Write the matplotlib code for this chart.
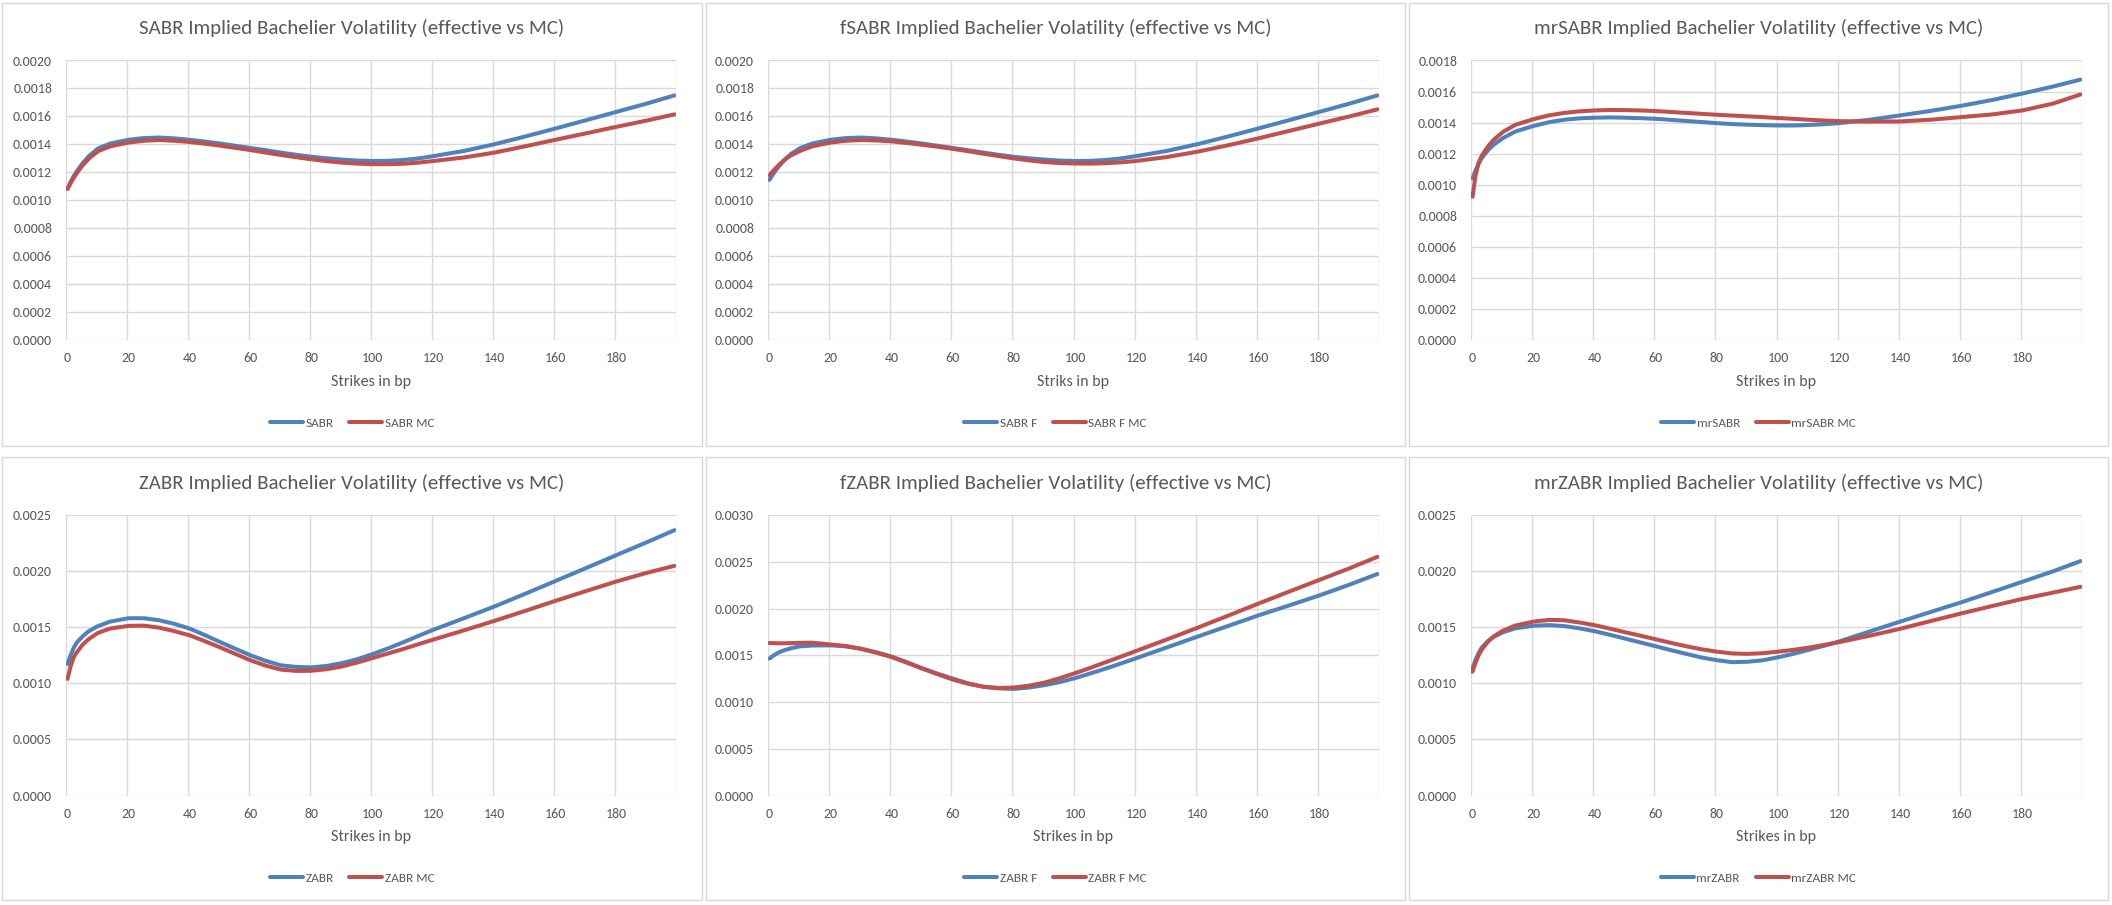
import matplotlib
matplotlib.use("Agg")
import matplotlib.pyplot as plt
from matplotlib import font_manager
from matplotlib.patches import Rectangle
from matplotlib.ticker import FormatStrFormatter
import numpy as np

# ---- data (strike in bp, implied Bachelier vol in units of 1e-3) ----
strikes = [0, 1, 2, 3, 5, 7, 10, 14, 20, 25, 30, 35, 40, 45, 50, 55, 60, 65,
           70, 75, 80, 85, 90, 95, 100, 105, 110, 115, 120, 130, 140, 150,
           160, 170, 180, 190, 199]

sabr = [1.080, 1.130, 1.170, 1.205, 1.265, 1.315, 1.370, 1.405, 1.432, 1.444,
        1.448, 1.442, 1.432, 1.419, 1.405, 1.389, 1.373, 1.357, 1.340, 1.324,
        1.310, 1.299, 1.290, 1.283, 1.280, 1.281, 1.287, 1.298, 1.315, 1.352,
        1.400, 1.455, 1.513, 1.572, 1.632, 1.692, 1.750]
sabr_mc = [1.080, 1.120, 1.158, 1.192, 1.250, 1.297, 1.350, 1.385, 1.412, 1.425,
           1.430, 1.425, 1.416, 1.404, 1.390, 1.374, 1.358, 1.340, 1.323, 1.307,
           1.292, 1.279, 1.268, 1.261, 1.257, 1.257, 1.260, 1.268, 1.280, 1.305,
           1.340, 1.385, 1.432, 1.478, 1.525, 1.570, 1.614]

sabr_f = [1.145, 1.180, 1.212, 1.240, 1.290, 1.330, 1.372, 1.405, 1.432, 1.444,
          1.448, 1.442, 1.432, 1.419, 1.405, 1.389, 1.373, 1.357, 1.340, 1.324,
          1.310, 1.299, 1.290, 1.283, 1.280, 1.281, 1.287, 1.298, 1.315, 1.352,
          1.400, 1.455, 1.513, 1.572, 1.632, 1.692, 1.750]
sabr_f_mc = [1.178, 1.205, 1.228, 1.250, 1.290, 1.320, 1.352, 1.385, 1.412, 1.425,
             1.430, 1.427, 1.420, 1.409, 1.396, 1.382, 1.367, 1.350, 1.332, 1.315,
             1.298, 1.284, 1.272, 1.265, 1.262, 1.261, 1.264, 1.270, 1.280, 1.308,
             1.346, 1.392, 1.442, 1.495, 1.548, 1.600, 1.650]

mrsabr = [1.040, 1.090, 1.135, 1.170, 1.220, 1.258, 1.300, 1.342, 1.378, 1.402,
          1.418, 1.427, 1.431, 1.433, 1.431, 1.428, 1.424, 1.417, 1.410, 1.403,
          1.396, 1.390, 1.386, 1.383, 1.381, 1.381, 1.384, 1.389, 1.396, 1.418,
          1.446, 1.475, 1.508, 1.545, 1.587, 1.632, 1.677]
mrsabr_mc = [0.921, 1.060, 1.140, 1.185, 1.245, 1.290, 1.340, 1.385, 1.422, 1.446,
             1.462, 1.472, 1.478, 1.481, 1.480, 1.478, 1.474, 1.468, 1.462, 1.456,
             1.450, 1.445, 1.440, 1.435, 1.429, 1.424, 1.418, 1.413, 1.409, 1.406,
             1.407, 1.418, 1.435, 1.452, 1.478, 1.522, 1.581]

zabr = [1.172, 1.250, 1.315, 1.362, 1.420, 1.465, 1.510, 1.550, 1.580, 1.580,
        1.562, 1.530, 1.488, 1.430, 1.368, 1.308, 1.250, 1.200, 1.160, 1.146,
        1.142, 1.155, 1.180, 1.215, 1.260, 1.310, 1.365, 1.422, 1.478, 1.580,
        1.685, 1.797, 1.912, 2.027, 2.143, 2.258, 2.365]
zabr_mc = [1.039, 1.150, 1.230, 1.275, 1.345, 1.395, 1.450, 1.488, 1.512, 1.514,
           1.496, 1.465, 1.428, 1.376, 1.320, 1.262, 1.205, 1.157, 1.122, 1.110,
           1.112, 1.126, 1.150, 1.185, 1.225, 1.265, 1.305, 1.348, 1.390, 1.472,
           1.557, 1.645, 1.735, 1.822, 1.908, 1.985, 2.047]

zabr_f = [1.465, 1.490, 1.512, 1.530, 1.556, 1.575, 1.595, 1.604, 1.606, 1.595,
          1.570, 1.532, 1.486, 1.425, 1.360, 1.303, 1.250, 1.200, 1.163, 1.146,
          1.140, 1.155, 1.180, 1.213, 1.255, 1.305, 1.357, 1.412, 1.468, 1.583,
          1.698, 1.812, 1.926, 2.032, 2.140, 2.257, 2.369]
zabr_f_mc = [1.631, 1.630, 1.629, 1.628, 1.628, 1.630, 1.633, 1.634, 1.615, 1.598,
             1.568, 1.527, 1.480, 1.420, 1.358, 1.297, 1.240, 1.195, 1.163, 1.150,
             1.155, 1.175, 1.207, 1.255, 1.308, 1.365, 1.425, 1.485, 1.546, 1.668,
             1.793, 1.922, 2.052, 2.180, 2.306, 2.432, 2.553]

mrzabr = [1.134, 1.210, 1.270, 1.318, 1.375, 1.415, 1.455, 1.490, 1.513, 1.519,
          1.510, 1.490, 1.464, 1.432, 1.398, 1.364, 1.330, 1.295, 1.262, 1.230,
          1.206, 1.188, 1.192, 1.205, 1.232, 1.262, 1.298, 1.334, 1.373, 1.462,
          1.550, 1.636, 1.722, 1.813, 1.905, 1.998, 2.089]
mrzabr_mc = [1.104, 1.185, 1.250, 1.300, 1.370, 1.420, 1.470, 1.515, 1.550, 1.565,
             1.562, 1.542, 1.518, 1.487, 1.455, 1.424, 1.392, 1.360, 1.330, 1.303,
             1.282, 1.266, 1.262, 1.268, 1.282, 1.298, 1.318, 1.341, 1.367, 1.424,
             1.486, 1.555, 1.623, 1.688, 1.752, 1.808, 1.860]

vol_scale = 1e-3

titles = ["SABR Implied Bachelier Volatility (effective vs MC)",
          "fSABR Implied Bachelier Volatility (effective vs MC)",
          "mrSABR Implied Bachelier Volatility (effective vs MC)",
          "ZABR Implied Bachelier Volatility (effective vs MC)",
          "fZABR Implied Bachelier Volatility (effective vs MC)",
          "mrZABR Implied Bachelier Volatility (effective vs MC)"]
xlabels = ["Strikes in bp", "Striks in bp", "Strikes in bp",
           "Strikes in bp", "Strikes in bp", "Strikes in bp"]
legend_names = [("SABR", "SABR MC"), ("SABR F", "SABR F MC"),
                ("mrSABR", "mrSABR MC"), ("ZABR", "ZABR MC"),
                ("ZABR F", "ZABR F MC"), ("mrZABR", "mrZABR MC")]
series = [(sabr, sabr_mc), (sabr_f, sabr_f_mc), (mrsabr, mrsabr_mc),
          (zabr, zabr_mc), (zabr_f, zabr_f_mc), (mrzabr, mrzabr_mc)]
y_max = [0.0020, 0.0020, 0.0018, 0.0025, 0.0030, 0.0025]
y_step = [0.0002, 0.0002, 0.0002, 0.0005, 0.0005, 0.0005]
x_ticks = [0, 20, 40, 60, 80, 100, 120, 140, 160, 180]

# ---- styling ----
available = {f.name for f in font_manager.fontManager.ttflist}
font = "Carlito" if "Carlito" in available else "Lato"
plt.rcParams["font.family"] = font

BLUE = "#4F81BD"
RED = "#C0504D"
GRID = "#D9D9D9"
TEXT = "#595959"
LW = 2.9

W, H = 2112, 905
fig = plt.figure(figsize=(W / 100, H / 100), dpi=100)
fig.patch.set_facecolor("white")

box_x = [(2, 702), (706, 1405), (1409, 2108)]
box_y = [(3, 446), (457, 900)]
plot_x = [(66, 676), (768, 1379), (1471, 2082)]
plot_y = [(60.5, 339.6), (515, 795.5)]
title_y = [28, 483]
xlabel_y = [382, 837]
legend_y = [423, 878]


def fx(px):
    return px / W


def fy(py):
    return 1 - py / H


for i in range(6):
    r, c = divmod(i, 3)
    bx0, bx1 = box_x[c]
    by0, by1 = box_y[r]
    fig.patches.append(Rectangle((fx(bx0), fy(by1)), fx(bx1 - bx0), (by1 - by0) / H,
                                 transform=fig.transFigure, fill=False,
                                 edgecolor=GRID, linewidth=1.0, zorder=0))

    px0, px1 = plot_x[c]
    py0, py1 = plot_y[r]
    ax = fig.add_axes([fx(px0), fy(py1), fx(px1 - px0), (py1 - py0) / H])
    ax.set_facecolor("white")
    for s in ax.spines.values():
        s.set_visible(False)

    ax.set_xlim(-0.5, 199.5)
    ax.set_ylim(0, y_max[i])
    yt = np.arange(0, y_max[i] + y_step[i] / 2, y_step[i])
    ax.set_yticks(yt)
    ax.yaxis.set_major_formatter(FormatStrFormatter("%.4f"))
    ax.set_xticks(x_ticks)
    ax.tick_params(length=0, labelsize=10, labelcolor=TEXT)
    ax.tick_params(axis="y", pad=10)
    ax.tick_params(axis="x", pad=9)

    for v in yt:
        ax.axhline(v, color=GRID, lw=1.0, zorder=1)
    for gx in np.arange(-0.5, 200, 20):
        ax.axvline(gx, color=GRID, lw=1.0, zorder=1)

    k = np.array(strikes)
    model, mc = series[i]
    h1, = ax.plot(k, np.array(model) * vol_scale, color=BLUE, lw=LW,
                  solid_capstyle="round", solid_joinstyle="round", zorder=3)
    h2, = ax.plot(k, np.array(mc) * vol_scale, color=RED, lw=LW,
                  solid_capstyle="round", solid_joinstyle="round", zorder=3)

    fig.text(fx((bx0 + bx1) / 2), fy(title_y[r]), titles[i], ha="center",
             va="center", fontsize=15, color=TEXT)
    fig.text(fx((px0 + px1) / 2), fy(xlabel_y[r]), xlabels[i], ha="center",
             va="center", fontsize=11.5, color=TEXT)
    fig.legend([h1, h2], legend_names[i], loc="center",
               bbox_to_anchor=(fx((bx0 + bx1) / 2), fy(legend_y[r])),
               ncol=2, frameon=False, fontsize=9.5, labelcolor=TEXT,
               handlelength=2.5, handletextpad=0.2, columnspacing=1.2)

fig.savefig("out.png", dpi=100, facecolor="white")
